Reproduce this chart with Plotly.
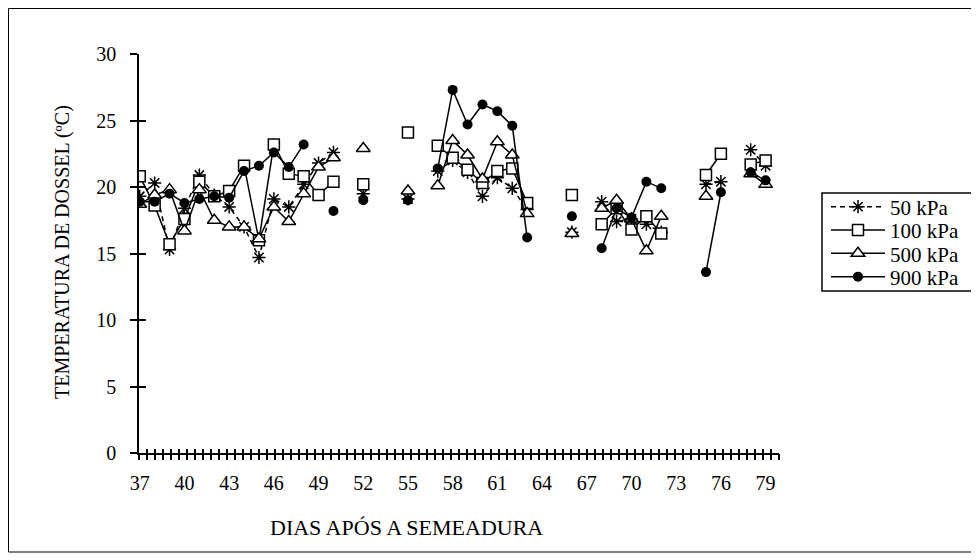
import plotly.graph_objects as go

# Days after sowing (full range; None = not measured)
days = list(range(37, 80))

_50 = {37: 19.3, 38: 20.3, 39: 15.3, 40: 18.4, 41: 20.9, 42: 19.4, 43: 18.5, 44: 17.0, 45: 14.7,
       46: 19.1, 47: 18.5, 48: 20.2, 49: 21.8, 50: 22.6, 52: 19.5, 55: 19.1, 57: 21.2, 58: 22.0,
       59: 21.1, 60: 19.3, 61: 20.7, 62: 19.9, 63: 18.3, 66: 16.6, 68: 18.9, 69: 17.4, 70: 17.6,
       71: 17.2, 72: 16.6, 75: 20.2, 76: 20.4, 78: 22.8, 79: 21.6}
_100 = {37: 20.8, 38: 18.6, 39: 15.7, 40: 17.6, 41: 20.4, 42: 19.3, 43: 19.7, 44: 21.6, 45: 16.0,
        46: 23.2, 47: 21.0, 48: 20.8, 49: 19.4, 50: 20.4, 52: 20.2, 55: 24.1, 57: 23.1, 58: 22.2,
        59: 21.3, 60: 20.3, 61: 21.2, 62: 21.4, 63: 18.8, 66: 19.4, 68: 17.2, 69: 18.4, 70: 16.8,
        71: 17.8, 72: 16.5, 75: 20.9, 76: 22.5, 78: 21.7, 79: 22.0}
_500 = {37: 18.7, 38: 19.4, 39: 19.8, 40: 16.7, 41: 19.8, 42: 17.5, 43: 17.0, 44: 17.0, 45: 16.1,
        46: 18.5, 47: 17.4, 48: 19.5, 49: 21.5, 50: 22.2, 52: 22.9, 55: 19.7, 57: 20.1, 58: 23.5,
        59: 22.4, 60: 20.6, 61: 23.4, 62: 22.4, 63: 18.0, 66: 16.5, 68: 18.4, 69: 19.0, 70: 17.6,
        71: 15.2, 72: 17.8, 75: 19.3, 78: 21.0, 79: 20.2}
_900 = {37: 18.9, 38: 18.9, 39: 19.5, 40: 18.8, 41: 19.1, 42: 19.3, 43: 19.2, 44: 21.2, 45: 21.6,
        46: 22.6, 47: 21.5, 48: 23.2, 50: 18.2, 52: 19.0, 55: 19.0, 57: 21.4, 58: 27.3, 59: 24.7,
        60: 26.2, 61: 25.7, 62: 24.6, 63: 16.2, 66: 17.8, 68: 15.4, 69: 18.4, 70: 17.7, 71: 20.4,
        72: 19.9, 75: 13.6, 76: 19.6, 78: 21.1, 79: 20.5}

kpa50 = [_50.get(d) for d in days]
kpa100 = [_100.get(d) for d in days]
kpa500 = [_500.get(d) for d in days]
kpa900 = [_900.get(d) for d in days]

series_names = ["50 kPa", "100 kPa", "500 kPa", "900 kPa"]
x_tick_labels = [37, 40, 43, 46, 49, 52, 55, 58, 61, 64, 67, 70, 73, 76, 79]
y_tick_labels = [0, 5, 10, 15, 20, 25, 30]

FONT = "Liberation Serif, Times New Roman, serif"
FS = 20
LFS = 21
XR = [36.95, 79.9]
YR = [0, 30]

# page pixel -> paper helpers (plot area on the page: x 139..779, y 54..453)
def px(p):
    return (p - 139) / 640.0

def py(p):
    return (453 - p) / 399.0

fig = go.Figure()
fig.add_trace(go.Scatter(
    x=days, y=kpa50, name=series_names[0], mode="lines+markers", connectgaps=False,
    legend="legend",
    line=dict(color="black", width=1.5, dash="5px,4px"),
    marker=dict(symbol="asterisk-open", size=11, color="black", line=dict(color="black", width=1.5))))
fig.add_trace(go.Scatter(
    x=days, y=kpa100, name=series_names[1], mode="lines+markers", connectgaps=False,
    legend="legend2",
    line=dict(color="black", width=1.5),
    marker=dict(symbol="square", size=11, color="white", line=dict(color="black", width=1.5))))
fig.add_trace(go.Scatter(
    x=days, y=kpa500, name=series_names[2], mode="lines+markers", connectgaps=False,
    legend="legend3",
    line=dict(color="black", width=1.5),
    marker=dict(symbol="triangle-up", size=12, color="white", line=dict(color="black", width=1.5))))
fig.add_trace(go.Scatter(
    x=days, y=kpa900, name=series_names[3], mode="lines+markers", connectgaps=False,
    legend="legend4",
    line=dict(color="black", width=1.5),
    marker=dict(symbol="circle", size=10, color="black", line=dict(color="black", width=0))))
# empty helper traces for the overlay axes that draw the crossing tick marks
fig.add_trace(go.Scatter(x=[None], y=[None], xaxis="x2", yaxis="y2", showlegend=False,
                         hoverinfo="skip", mode="markers"))
fig.add_trace(go.Scatter(x=[None], y=[None], xaxis="x3", yaxis="y", showlegend=False,
                         hoverinfo="skip", mode="markers"))

fine_dtick = 8.0 / (640.0 / (XR[1] - XR[0]))

row_y = [207, 230.3, 253.7, 277]
legend_common = dict(xanchor="left", yanchor="middle", bgcolor="rgba(0,0,0,0)", borderwidth=0,
                     font=dict(family=FONT, size=LFS, color="black"), itemwidth=54)

fig.update_layout(
    width=971, height=552, autosize=False,
    margin=dict(l=131, r=200, t=46, b=107),
    paper_bgcolor="white", plot_bgcolor="white",
    font=dict(family=FONT, size=FS, color="black"),
    showlegend=True,
    legend=dict(x=px(826), y=py(row_y[0]), **legend_common),
    legend2=dict(x=px(826), y=py(row_y[1]), **legend_common),
    legend3=dict(x=px(826), y=py(row_y[2]), **legend_common),
    legend4=dict(x=px(826), y=py(row_y[3]), **legend_common),
    xaxis=dict(range=XR, showgrid=False, zeroline=False, showline=True, linecolor="black",
               linewidth=1.5, tickmode="array", tickvals=x_tick_labels,
               ticktext=[str(v) for v in x_tick_labels], ticks="", ticklabelstandoff=11,
               tickfont=dict(family=FONT, size=FS, color="black")),
    xaxis2=dict(range=XR, overlaying="x", anchor="y2", showgrid=False, zeroline=False,
                showline=False, showticklabels=False, tickmode="linear", tick0=XR[0],
                dtick=fine_dtick, ticks="inside", ticklen=4, tickwidth=1.5, tickcolor="black"),
    xaxis3=dict(range=XR, overlaying="x", anchor="y", showgrid=False, zeroline=False,
                showline=False, showticklabels=False, tickmode="linear", tick0=XR[0],
                dtick=fine_dtick, ticks="outside", ticklen=6, tickwidth=1.5, tickcolor="black"),
    yaxis=dict(range=YR, showgrid=False, zeroline=False, showline=True, linecolor="black",
               linewidth=1.5, tickmode="array", tickvals=y_tick_labels,
               ticktext=[str(v) for v in y_tick_labels], ticks="outside", ticklen=7,
               tickwidth=1.5, tickcolor="black", ticklabelstandoff=10,
               tickfont=dict(family=FONT, size=FS, color="black")),
    yaxis2=dict(range=YR, overlaying="y", anchor="x2", side="left", showgrid=False,
                zeroline=False, showline=False, showticklabels=False, tickmode="array",
                tickvals=y_tick_labels, ticks="inside", ticklen=7, tickwidth=1.5,
                tickcolor="black"),
)

fig.add_annotation(text="TEMPERATURA DE DOSSEL (ºC)", xref="paper", yref="paper",
                   x=px(62), y=py(252), textangle=-90, showarrow=False,
                   xanchor="center", yanchor="middle",
                   font=dict(family=FONT, size=FS, color="black"))
fig.add_annotation(text="DIAS APÓS A SEMEADURA", xref="paper", yref="paper",
                   x=px(406), y=py(527), showarrow=False, xanchor="center", yanchor="middle",
                   font=dict(family=FONT, size=22, color="black"))
# legend box and outer chart frame
fig.add_shape(type="rect", xref="paper", yref="paper", x0=px(822), x1=px(975),
              y0=py(291), y1=py(193), line=dict(color="black", width=1.5), layer="below")
fig.add_shape(type="rect", xref="paper", yref="paper", x0=px(8.5), x1=px(977.5),
              y0=py(552), y1=py(8.5), line=dict(color="black", width=1), layer="below")

fig.write_html("out.html")
